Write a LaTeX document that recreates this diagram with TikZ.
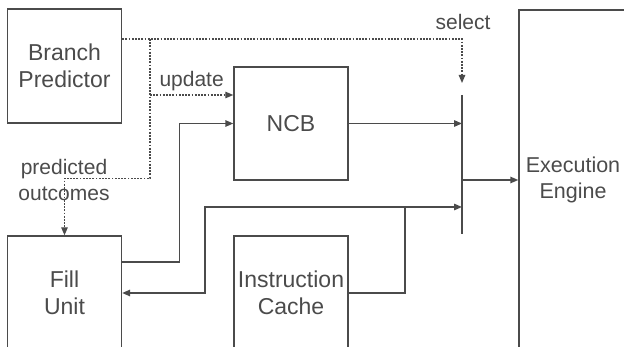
\documentclass[tikz,border=0pt]{standalone}
\usepackage{fontspec}
\setmainfont{Liberation Sans}
\usepackage{xcolor}
\usetikzlibrary{arrows.meta,positioning,calc}
\definecolor{wiregray}{RGB}{75,75,75}
\definecolor{inkgray}{RGB}{75,75,75}

\begin{document}
\begin{tikzpicture}[x=1pt, y=-1pt,
    unit/.style={draw=wiregray, line width=1.4pt, minimum width=114pt, minimum height=114pt,
        inner sep=0pt, align=center, text=inkgray, font=\fontsize{23}{27}\selectfont},
    bus/.style={draw=wiregray, line width=1.4pt},
    ctrl/.style={draw=wiregray, line width=1.3pt, dash pattern=on 1.8pt off 1.4pt},
    tip/.style={-{Triangle[length=8pt, width=6.5pt]}},
    lbl/.style={text=inkgray, inner sep=3pt, align=center, font=\fontsize{21}{26}\selectfont}]
    \useasboundingbox (0,0) rectangle (624,347);
    \clip (0,0) rectangle (624,347);
    \node[unit] (bp) at (64.5,66) {Branch\\Predictor};
    \node[unit, minimum height=113pt] (ncb) at (291,123.5) {NCB};
    \node[unit] (fill) at (64.5,293) {Fill\\Unit};
    \node[unit] (icache) at (291,293) {Instruction\\Cache};
    \node[unit, minimum width=108pt, minimum height=340pt, font=\fontsize{21.5}{26}\selectfont]
        (exec) at (573,180) {Execution\\Engine};
    \coordinate (muxtop) at (462,95);
    \coordinate (muxbot) at (462,234);
    \coordinate (tap) at (150,39);
    \coordinate (split) at (405,207);
    \draw[bus] (muxtop) -- (muxbot);
    \node[lbl] (sellbl) at (463,22) {select};
    \node[lbl] (predlbl) at (64,180) {predicted\\outcomes};
    \draw[ctrl, tip] (bp.east |- tap) -| ($(muxtop)+(0,-12)$);
    \draw[ctrl, tip] (tap) |- ($(fill.north)+(0,-57)$) -- (fill.north);
    \draw[ctrl, tip] (tap |- 0,95) -- node[lbl, midway, above] {update} (ncb.west |- 0,95);
    \draw[bus, tip] (ncb.east) -- (ncb.east -| muxtop);
    \draw[bus, tip] ($(fill.east)+(0,-31)$) -| ($(ncb.west)+(-54,0)$) -- (ncb.west);
    \draw[bus] (icache.east) -| (split);
    \draw[bus, tip] (split) -- (split -| muxtop);
    \draw[bus, tip] (split) -- ($(split)+(-200,0)$) |- (fill.east);
    \draw[bus, tip] (exec.west -| muxtop) -- (exec.west);
\end{tikzpicture}
\end{document}
